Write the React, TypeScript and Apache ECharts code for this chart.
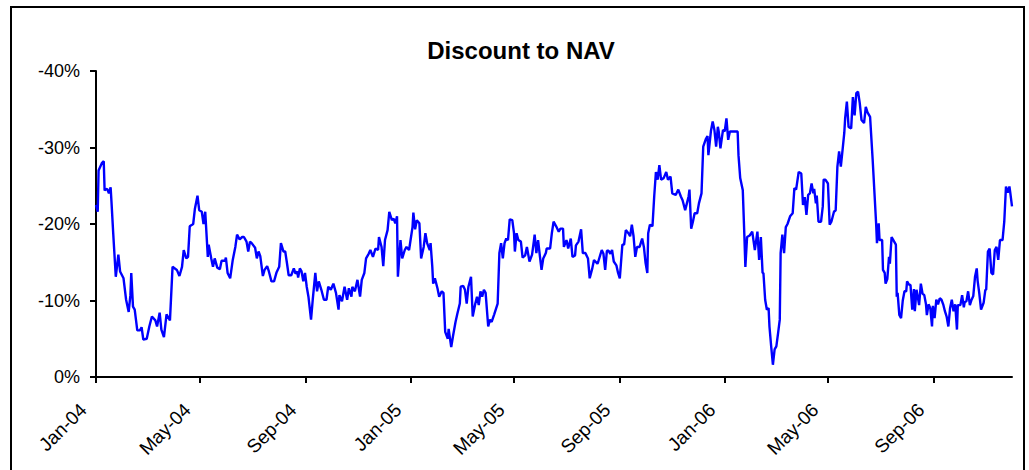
import React, { useEffect, useRef } from 'react';
import * as echarts from 'echarts';

// Day offsets since 1 Jan 2004 paired with discount to NAV (%)
const START_DATE = '2004-01-01';

const points2004: [number, number][] = [
  [0,-22.5],[2,-21.6],[3,-27],[7,-28],[9,-28.2],[10,-24.4],[13,-24.6],[15,-24.0],[17,-24.8],[18,-22.9],[20,-18.8],[23,-13.1],[26,-16],[28,-13.8],[32,-12.9],[35,-10.1],[38,-8.5],[40,-10.7],[41,-13.6],[43,-9.2],[45,-8.8],[48,-6.1],[51,-6.1],[53,-6.5],[55,-4.9],[59,-5.0],[62,-6.6],[65,-7.9],[69,-7.4],[71,-6.6],[74,-8.4],[76,-6.2],[79,-5.2],[82,-8.2],[86,-7.4],[89,-14.4],[94,-14.0],[97,-13.2],[100,-14.4],[102,-16.6],[105,-15.5],[107,-15.7],[109,-19.7],[113,-20],[115,-22],[118,-23.7],[120,-21.8],[123,-21.6],[125,-20],[127,-21.6],[130,-15.7],[131,-17.3],[134,-15.5],[136,-14.4],[138,-15.5],[141,-14.3],[144,-14.1],[146,-15.2],[150,-15.2],[151,-15.6],[153,-13.6],[156,-12.9],[159,-15.3],[162,-17],[164,-18.6],[167,-18],[170,-18.3],[172,-18.3],[175,-17.7],[177,-16.4],[179,-17.7],
  [181,-17.5],[185,-16.9],[187,-15.5],[189,-16.4],[191,-15.8],[194,-13.2],[196,-14.0],[199,-14.5],[201,-13.8],[204,-12.5],[207,-12.5],[210,-13.7],[213,-14.4],[215,-17.5],[218,-16.4],[220,-16.4],[222,-14.9],[224,-13.3],[227,-13.3],[230,-14.2],[232,-13.5],[234,-13.8],[235,-13.0],[237,-14.2],[239,-13.8],[241,-12.5],[243,-13.6],[245,-11.8],[247,-10.5],[250,-7.5],[252,-10.1],[255,-13.6],[257,-11.2],[259,-12.5],[262,-11.4],[265,-10.1],[268,-10.1],[270,-11.8],[273,-11.4],[276,-12.2],[279,-11.0],[282,-8.8],[283,-10.7],[286,-9.9],[289,-11.8],[292,-10.1],[294,-11.6],[297,-10.5],[298,-11.8],[301,-11.2],[304,-12.7],[307,-10.5],[309,-12.7],[312,-13.6],[314,-15.5],[317,-16.1],[319,-16.6],[322,-15.7],[325,-16.8],[328,-16.6],[329,-18.3],[332,-17.0],[334,-14.5],[336,-17.9],[339,-19.2],[341,-21.6],[344,-20.5],[346,-20.7],[348,-20.1],[350,-21.0],[351,-13.1],[354,-17.9],[356,-15.5],[359,-16.6],[361,-17.0],[364,-16.6]
];

const points2005: [number, number][] = [
  [366,-18.1],[368,-19.6],[369,-21.5],[371,-19.3],[373,-20.5],[376,-20.1],[378,-15.5],[381,-17.0],[383,-18.8],[385,-17.5],[388,-16.6],[389,-17.5],[391,-14.4],[392,-12.2],[394,-12.9],[397,-11.6],[399,-10.5],[402,-11.2],[404,-11.0],[406,-5.9],[409,-5.0],[410,-6.3],[413,-3.9],[415,-5.3],[418,-7.2],[420,-8.2],[423,-9.6],[424,-11.8],[427,-11.9],[429,-11.4],[431,-9.6],[433,-11.8],[436,-13.1],[438,-7.9],[441,-9.6],[443,-10.5],[445,-9.4],[447,-11.2],[449,-10.5],[451,-11.4],[453,-11.0],[456,-6.6],[458,-7.5],[460,-7.2],[463,-8.2],[467,-9.6],[469,-16.2],[471,-17.5],[473,-15.5],[475,-17.5],[477,-18.1],[479,-17.9],[481,-20.6],[484,-20.5],[486,-18.8],[487,-16.4],[489,-18.8],[491,-17.9],[494,-17.7],[496,-15.6],[499,-15.9],[501,-17.0],[504,-15.1],[507,-16.0],[509,-17.7],[510,-18.6],[512,-16.2],[514,-17.9],[516,-15.9],[518,-14.0],[520,-15.5],[523,-16.2],[524,-16.8],[528,-16.8],[530,-18.8],[532,-20.3],[535,-19.7],[538,-19.0],
  [540,-19.4],[543,-19.4],[544,-17.0],[547,-17.9],[549,-16.8],[552,-18.1],[554,-15.7],[557,-15.9],[558,-17.2],[561,-17.7],[564,-19.3],[566,-16.2],[569,-16.2],[572,-15.5],[574,-12.9],[577,-14.2],[579,-15.3],[583,-14.8],[584,-15.1],[588,-16.6],[590,-16.1],[592,-14.0],[594,-16.5],[596,-16.5],[598,-16.1],[600,-16.6],[602,-15.1],[605,-14.6],[607,-13.6],[609,-12.9],[612,-17.3],[614,-17.3],[616,-19.2],[619,-18.8],[621,-18.4],[623,-19.9],[625,-18.4],[627,-15.7],[629,-17.0],[632,-17.0],[635,-18.1],[637,-17.0],[639,-14.9],[641,-13.6],[642,-18.8],[644,-19.9],[647,-19.7],[649,-23.6],[651,-26.8],[653,-25.8],[655,-27.7],[657,-25.8],[660,-26.0],[663,-26.8],[665,-25.8],[668,-26.2],[670,-24.0],[674,-23.8],[677,-24.5],[680,-23.6],[682,-23.1],[685,-21.8],[687,-22.7],[689,-23.6],[690,-24.5],[692,-19.4],[694,-20.3],[696,-21.4],[699,-21.4],[701,-22.7],[704,-24.0],[706,-30.1],[709,-31.1],[711,-31.5],[712,-29.0],[715,-32.2],[717,-33.4],[719,-32.3],[721,-30.1],[723,-32.7],[724,-32.1],[726,-29.9],[729,-32.3]
];

const points2006: [number, number][] = [
  [731,-32.1],[733,-33.8],[735,-31.0],[737,-32.1],[746,-32.1],[747,-29.0],[749,-26.0],[752,-24.4],[754,-17.9],[755,-14.4],[757,-18.3],[760,-18.5],[763,-19.0],[766,-16.6],[769,-19.0],[771,-15.3],[773,-18.3],[775,-13.6],[776,-13.6],[778,-10.1],[780,-8.8],[782,-9.0],[783,-6.6],[785,-4.0],[787,-1.6],[789,-3.6],[791,-4.0],[793,-5.7],[795,-7.5],[796,-16.2],[798,-18.6],[800,-16.2],[802,-19.6],[804,-20.0],[807,-21.0],[810,-21.4],[812,-24.7],[814,-24.5],[817,-26.8],[820,-26.6],[822,-22.5],[824,-23.5],[826,-21.2],[828,-23.8],[830,-24.0],[832,-25.3],[834,-24.0],[835,-24.6],[837,-22.7],[838,-23.7],[840,-20.3],[843,-20.3],[845,-22.3],[846,-25.8],[848,-25.8],[851,-25.3],[853,-19.9],[855,-20.3],[858,-21.6],[860,-21.8],[862,-27.5],[864,-29.5],[866,-27.5],[868,-29.7],[870,-31.9],[871,-33.8],[873,-36.0],[875,-32.7],[878,-32.5],[880,-36.6],[882,-34.2],[884,-37.1],[886,-37.3],[888,-35.8],[890,-33.6],[893,-33.2],[895,-35.3],[897,-34.6],[900,-34.0],[903,-28.4],
  [907,-20.1],[908,-17.5],[910,-20.1],[911,-17.9],[914,-17.9],[915,-14.0],[917,-13.6],[918,-12.2],[920,-12.8],[922,-15.7],[923,-14.8],[925,-18.3],[928,-17.7],[930,-17.3],[931,-10.5],[932,-11.0],[934,-8.1],[936,-7.7],[938,-10.0],[940,-11.2],[942,-11.2],[943,-12.5],[945,-12.1],[947,-12.0],[949,-8.8],[951,-11.5],[952,-8.6],[954,-11.4],[956,-10.1],[957,-9.4],[959,-12.2],[961,-10.9],[963,-10.7],[965,-9.5],[966,-8.1],[968,-9.5],[970,-9.0],[972,-6.6],[973,-9.3],[975,-7.7],[977,-10.1],[979,-9.5],[981,-10.3],[983,-10.1],[985,-9.5],[987,-8.6],[989,-7.9],[991,-6.6],[993,-9.0],[995,-10.1],[997,-8.6],[999,-9.5],[1001,-6.2],[1002,-9.4],[1005,-9.4],[1007,-10.7],[1009,-9.1],[1010,-9.8],[1012,-9.9],[1014,-11.2],[1016,-9.4],[1018,-10.1],[1020,-10.6],[1022,-13.1],[1024,-14.2],[1025,-12.6],[1027,-10.9],[1029,-8.8],[1032,-9.7],[1034,-11.4],[1035,-11.4],[1037,-16.4],[1039,-16.8],[1041,-13.6],[1043,-13.4],[1045,-16.6],[1047,-17.0],[1049,-15.3],[1051,-17.9],[1054,-17.9],[1056,-20.3],[1058,-24.9],[1060,-24.1],[1062,-24.9],[1063,-24.1],[1065,-22.3]
];

const tickDates = ['2004-01-01','2004-05-01','2004-09-01','2005-01-01','2005-05-01','2005-09-01','2006-01-01','2006-05-01','2006-09-01'];
const tickLabels = ['Jan-04','May-04','Sep-04','Jan-05','May-05','Sep-05','Jan-06','May-06','Sep-06'];

const TITLE = 'Discount to NAV';
const FONT = '"Liberation Sans", Arial, Helvetica, sans-serif';

const DAY_MS = 86400000;
const toTs = (s: string) => {
  const [y, m, d] = s.split('-').map(Number);
  return Date.UTC(y, m - 1, d);
};

export default function App() {
  const ref = useRef<HTMLDivElement>(null);

  useEffect(() => {
    if (!ref.current) return;
    const chart = echarts.init(ref.current, undefined, { renderer: 'svg' });
    const start = toTs(START_DATE);
    const all = [...points2004, ...points2005, ...points2006];
    const data = all.map(([d, v]) => [start + d * DAY_MS, v]);
    const tickTs = tickDates.map(toTs);
    const lastTs = data[data.length - 1][0];

    chart.setOption({
      animation: false,
      backgroundColor: '#ffffff',
      title: {
        text: TITLE,
        left: 516,
        top: 33,
        textAlign: 'center',
        textStyle: { fontFamily: FONT, fontSize: 24, fontWeight: 'bold', color: '#000' },
      },
      grid: { left: 96, right: 17, top: 71, bottom: 93, containLabel: false },
      xAxis: {
        type: 'value',
        min: start,
        max: lastTs,
        axisLine: { show: true, lineStyle: { color: '#000', width: 2 } },
        axisTick: { show: true, customValues: tickTs, length: 6, lineStyle: { color: '#000', width: 2 } },
        axisLabel: {
          customValues: tickTs,
          rotate: 45,
          margin: 17,
          padding: [0, 18, 0, 0],
          fontFamily: FONT,
          fontSize: 19,
          color: '#000',
          formatter: (v: number) => {
            const i = tickTs.indexOf(v);
            return i >= 0 ? tickLabels[i] : '';
          },
        },
        splitLine: { show: false },
      },
      yAxis: {
        type: 'value',
        inverse: true,
        min: -40,
        max: 0,
        interval: 10,
        axisLine: { show: true, lineStyle: { color: '#000', width: 2 } },
        axisTick: { show: true, length: 6, lineStyle: { color: '#000', width: 2 } },
        axisLabel: {
          margin: 16,
          fontFamily: FONT,
          fontSize: 18,
          color: '#000',
          formatter: (v: number) => `${v}%`,
        },
        splitLine: { show: false },
      },
      series: [
        {
          type: 'line',
          data,
          symbol: 'none',
          showSymbol: false,
          lineStyle: { color: '#0000ff', width: 2.4 },
        },
      ],
      graphic: [
        {
          type: 'rect',
          silent: true,
          shape: { x: 11, y: 7, width: 1013, height: 480 },
          style: { fill: 'none', stroke: '#000', lineWidth: 2 },
        },
      ],
    });

    return () => chart.dispose();
  }, []);

  return (
    <div
      ref={ref}
      style={{ position: 'absolute', left: 0, top: 0, width: 1029, height: 470, background: '#fff' }}
    />
  );
}
